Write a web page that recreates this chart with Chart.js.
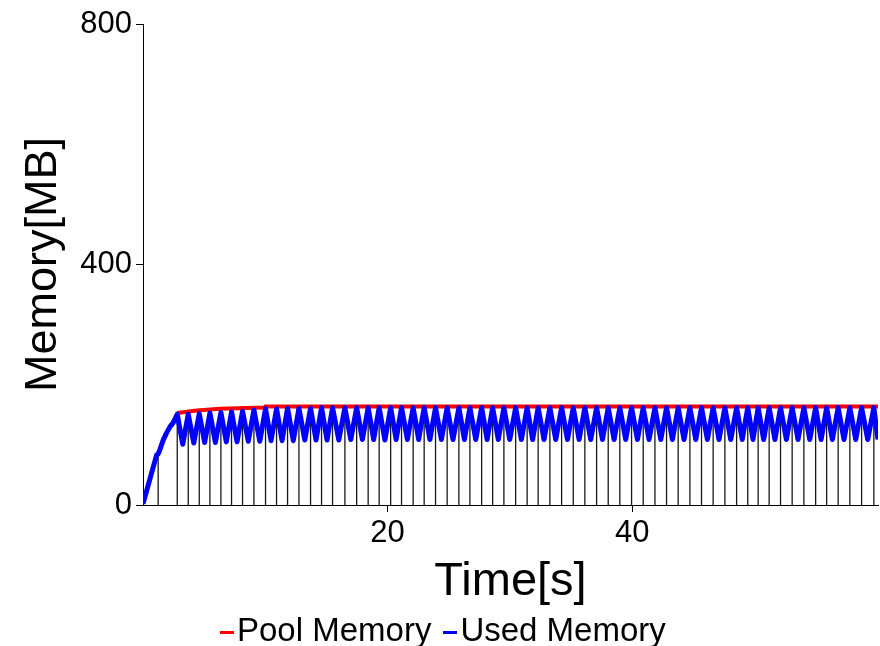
<!DOCTYPE html>
<html>
<head>
<meta charset="utf-8">
<script src="https://cdn.jsdelivr.net/npm/chart.js@4"></script>
<style>
  html, body { margin: 0; padding: 0; background: #fff; }
  #wrap { position: relative; width: 880px; height: 646px; }
  #legend {
    position: absolute; left: 220px; top: 611px; height: 38px; line-height: 38px;
    font-family: "Liberation Sans", Arial, sans-serif; font-size: 33px; color: #000; white-space: nowrap;
  }
  #legend .dash { display: inline-block; width: 14px; height: 3px; vertical-align: middle; margin-right: 3px; }
  #legend .item + .item { margin-left: 12px; }
</style>
</head>
<body>
<div id="wrap">
  <canvas id="memChart" width="880" height="646"></canvas>
  <div id="legend"></div>
</div>
<script>
// start-up ramp of used memory
const rampTime = [0, 1.11, 1.24, 1.38, 1.65, 1.93, 2.20, 2.47];
const rampMB = [2, 83, 85, 92, 108, 120, 130, 137];

// GC peaks (vertical lines sit on these)
const peakTime = [2.80, 3.70, 4.60, 5.47, 6.37, 7.24, 8.14, 9.07, 10.02, 10.92,
  11.82, 12.75, 13.70, 14.60, 15.50, 16.51, 17.47, 18.41, 19.31, 20.25,
  21.14, 22.09, 22.99, 23.92, 24.87, 25.83, 26.73, 27.69, 28.59, 29.51,
  30.47, 31.41, 32.31, 33.27, 34.23, 35.18, 36.13, 37.09, 38.04, 38.99,
  39.95, 40.90, 41.86, 42.81, 43.76, 44.72, 45.67, 46.62, 47.58, 48.54,
  49.45, 50.30, 51.20, 52.13, 53.08, 54.04, 55.00, 55.90, 56.84, 57.80,
  58.76, 59.76];
const peakMB = [151, 151, 152, 153, 154, 155, 156, 158, 160, 160,
  161, 161, 161, 162, 162, 162, 162, 162, 162, 162,
  162, 162, 162, 162, 162, 162, 162, 162, 162, 162,
  162, 162, 162, 162, 162, 162, 162, 162, 162, 162,
  162, 162, 162, 162, 162, 162, 162, 162, 162, 162,
  162, 162, 162, 162, 162, 162, 162, 162, 162, 162,
  162, 162];

// troughs between peaks
const troughTime = [3.25, 4.15, 5.04, 5.92, 6.81, 7.69, 8.61, 9.55, 10.47, 11.37,
  12.29, 13.23, 14.15, 15.05, 16.01, 16.99, 17.94, 18.86, 19.78, 20.70,
  21.62, 22.54, 23.46, 24.40, 25.35, 26.28, 27.21, 28.14, 29.05, 29.99,
  30.94, 31.86, 32.79, 33.75, 34.71, 35.66, 36.61, 37.57, 38.52, 39.47,
  40.43, 41.38, 42.34, 43.29, 44.24, 45.20, 46.15, 47.10, 48.06, 49.00,
  49.88, 50.75, 51.67, 52.61, 53.56, 54.52, 55.45, 56.37, 57.32, 58.28,
  59.26, 60.10];
const troughMB = [101, 103, 104, 104, 105, 105, 106, 106, 107, 107,
  107, 108, 108, 108, 108, 109, 109, 109, 108, 109,
  109, 109, 109, 109, 109, 109, 109, 109, 109, 109,
  109, 109, 109, 109, 109, 109, 109, 109, 109, 109,
  109, 109, 109, 109, 109, 109, 109, 109, 109, 109,
  109, 109, 109, 109, 109, 109, 109, 109, 109, 109,
  109, 109];

// pool memory
const poolTime = [2.80, 4.40, 6.30, 9.90, 10.00, 60.10];
const poolMB = [153, 157, 160, 162, 164, 164];

const xTicks = [20, 40];

// build series
const used = rampTime.map((t, i) => ({x: t, y: rampMB[i]}));
peakTime.forEach((t, i) => {
  used.push({x: t, y: peakMB[i]});
  used.push({x: troughTime[i], y: troughMB[i]});
});
const pool = poolTime.map((t, i) => ({x: t, y: poolMB[i]}));

const gcTime = [rampTime[2]].concat(peakTime);
const gcMB = [rampMB[2]].concat(peakMB);
const gcLines = [];
gcTime.forEach((t, i) => {
  gcLines.push({x: t, y: 0});
  gcLines.push({x: t, y: gcMB[i]});
  gcLines.push({x: t, y: null});
});

Chart.defaults.font.family = '"Liberation Sans", Arial, sans-serif';
Chart.defaults.color = '#000';

new Chart(document.getElementById('memChart'), {
  type: 'line',
  data: {
    datasets: [
      { label: 'Used Memory', data: used, borderColor: '#0000ff', borderWidth: 5,
        pointRadius: 0, order: 0, borderJoinStyle: 'round' },
      { label: 'Pool Memory', data: pool, borderColor: '#ff0000', borderWidth: 4,
        pointRadius: 0, order: 1 },
      { label: 'gc', data: gcLines, borderColor: 'rgba(0,0,0,0.9)', borderWidth: 1.3,
        pointRadius: 0, spanGaps: false, order: 2 }
    ]
  },
  options: {
    responsive: false,
    animation: false,
    events: [],
    layout: { padding: { top: 24, right: 2, left: 0, bottom: 0 } },
    plugins: { legend: { display: false }, tooltip: { enabled: false } },
    scales: {
      x: {
        type: 'linear', min: 0, max: 60.1,
        afterBuildTicks: s => { s.ticks = xTicks.map(v => ({value: v})); },
        afterFit: s => { s.height = 141; },
        grid: { drawOnChartArea: false, tickLength: 7, tickColor: '#000' },
        border: { color: '#000', width: 1 },
        ticks: { font: { size: 31 }, padding: 3, maxRotation: 0 },
        title: { display: true, text: 'Time[s]', font: { size: 47 }, padding: { top: 0, bottom: 36 } }
      },
      y: {
        min: 0, max: 800,
        ticks: { stepSize: 400, font: { size: 31 }, padding: 4 },
        afterFit: s => { s.width = 143; },
        grid: { drawOnChartArea: false, tickLength: 7, tickColor: '#000' },
        border: { color: '#000', width: 1 },
        title: { display: true, text: 'Memory[MB]', font: { size: 45 }, padding: { top: 17, bottom: 0 } }
      }
    }
  }
});

// legend with short dash markers
const legendItems = [['Pool Memory', '#ff0000'], ['Used Memory', '#0000ff']];
document.getElementById('legend').innerHTML = legendItems
  .map(([name, col]) => '<span class="item"><span class="dash" style="background:' + col + '"></span>' + name + '</span>')
  .join('');
</script>
</body>
</html>
